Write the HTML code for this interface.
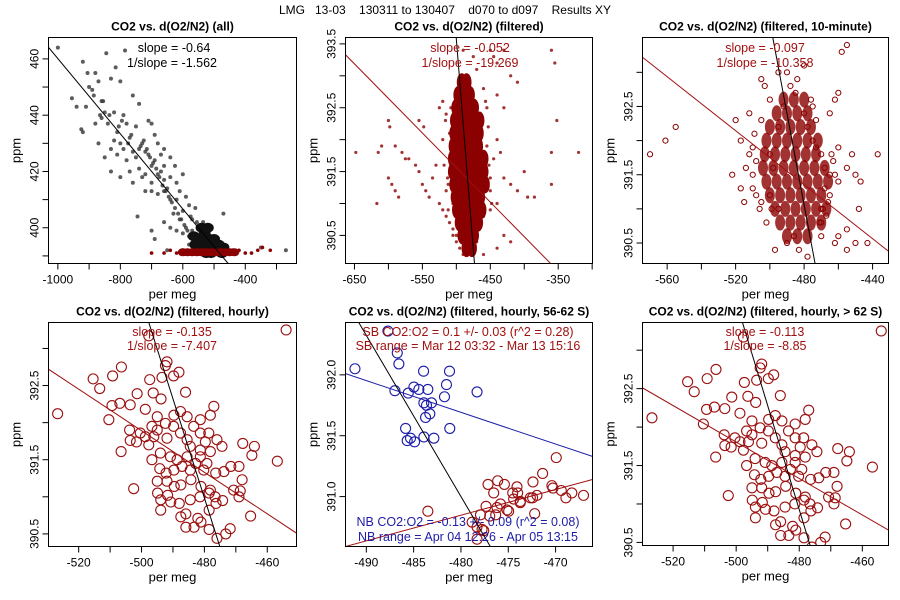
<!DOCTYPE html>
<html><head><meta charset="utf-8"><style>
body{margin:0;background:#fff;}
svg{display:block;font-family:"Liberation Sans",Arial,sans-serif;}
</style></head><body>
<svg id="c" width="900" height="600" viewBox="0 0 900 600">
<text x="445" y="14" text-anchor="middle" font-size="12" xml:space="preserve">LMG   13-03    130311 to 130407    d070 to d097    Results XY</text>
</svg>
<script>
// ---------- data ----------
const allBlackX=[-1000,-845,-785,-920,-815,-905,-880,-955,-940,-910,-870,-830,-800,-760,-900,-860,-850,-820,-790,-740,-925,-920,-880,-840,-810,-780,-750,-700,-870,-830,-800,-770,-730,-720,-680,-660,-850,-810,-780,-760,-740,-710,-690,-670,-640,-830,-800,-770,-740,-720,-700,-680,-660,-640,-620,-600,-745,-700,-690,-720,-700,-680,-660,-640,-620,-600,-580,-560,-700,-650,-630,-610,-590,-570,-550,-660,-640,-620,-600,-580,-560,-540,-520,-470,-540,-520,-500,-480,-560,-460,-440,-350,-270,-600,-650,-530,-510,-490,-570,-550,-530,-510,-490,-470,-450,-580,-660,-690,-710,-750,-790,-820,-760,-730,-670,-625,-610,-590,-575,-555,-535,-515,-545,-525,-505,-485,-465,-715,-705,-695,-685,-675,-665,-655,-645,-635,-625,-615,-605,-595,-585,-575,-565,-725,-735,-765,-775,-795,-805,-835,-855,-865,-885,-890,-860];
const allBlackY=[464,462,463,459,457,455,455,446,443,443,452,453,452,447,450,445,441,441,440,444,435,434,437,437,434,437,436,437,430,428,430,432,430,427,430,428,425,426,424,427,428,426,424,426,425,420,418,420,421,419,422,419,417,418,416,419,404,399,396,413,413,412,413,410,410,406,408,407,416,414,405,403,400,403,400,402,400,399,398,397,396,398,396,405,394,393,394,393,393,392,392,393,392,392,392,399,397,396,399,397,395,395,392,391,391,394,422,433,438,425,428,431,416,418,420,422,413,411,404,402,402,400,396,398,392,394,393,428,425,423,421,418,415,413,411,409,407,405,403,401,399,397,396,431,429,433,430,438,436,440,445,440,447,449,439];
const allBlackCoreX=[-550,-535,-520,-505,-490,-545,-525,-510,-475,-530,-515,-500,-560,-540,-520,-565,-485,-470];
const allBlackCoreY=[396,395,394,393,392,392,391,391,391,398,396,396,394,400,400,397,394,393];
const allRedX=[-640,-600,-620,-580,-560,-540,-520,-500,-480,-460,-440,-420,-400,-380,-360,-345,-320,-700,-660];
const allRedY=[392,392,391,391,392,391,392,391,392,391,391,392,391,391,392,393,392,391,391];
const allRedCoreX=[-600,-585,-570,-555,-540,-525,-510,-495,-480,-465,-450,-435];
const allRedCoreY=[391.3,391.3,391.3,391.3,391.3,391.3,391.3,391.3,391.3,391.3,391.3,391.3];

const filtX=[-648,-615,-610,-617,-600,-598,-590,-580,-570,-600,-595,-590,-585,-575,-560,-555,-550,-545,-540,-535,-530,-525,-520,-515,-510,-505,-500,-495,-548,-555,-510,-515,-520,-525,-450,-445,-440,-430,-420,-440,-430,-410,-360,-355,-352,-360,-320,-360,-385,-395,-410,-420,-430,-400,-440,-450,-430,-420,-440,-460,-470,-480,-455,-460,-470,-475,-490,-440,-445,-435,-470,-490,-505,-510,-512,-505,-450,-518,-515,-512,-520,-516,-513,-455,-452,-450,-448,-453,-457,-505,-500,-460,-458,-456,-508];
const filtY=[391.8,391.8,391.9,391.0,392.3,392.2,391.9,391.8,391.7,391.4,391.3,391.2,391.1,391.7,391.6,391.5,391.3,391.2,391.1,391.4,391.6,391.0,390.9,390.8,390.7,390.5,390.4,390.3,392.2,392.3,392.1,392.4,392.6,392.5,393.4,393.3,393.2,393.4,393.0,392.7,392.5,392.9,393.4,393.2,392.3,391.8,391.8,391.3,391.1,391.1,391.2,391.3,391.4,391.5,391.0,390.9,390.5,390.4,390.3,390.2,390.6,390.3,392.5,392.8,393.1,393.3,393.4,392.0,391.7,391.8,390.4,390.2,391.9,391.7,391.3,391.0,391.4,391.6,391.2,390.9,392.0,392.3,391.4,391.9,391.6,391.2,391.0,392.2,392.6,390.6,390.5,390.8,391.5,391.3,392.5];
const filtCoreX=[-492,-485,-497,-488,-480,-500,-491,-482,-474,-502,-493,-484,-475,-466,-503,-494,-485,-476,-467,-504,-495,-486,-477,-468,-505,-496,-487,-478,-469,-460,-505,-496,-487,-478,-469,-460,-503,-494,-485,-476,-467,-458,-501,-492,-483,-474,-465,-499,-490,-481,-472,-463,-495,-486,-477,-468,-491,-482,-474,-485,-477];
const filtCoreY=[392.9,392.9,392.7,392.7,392.7,392.5,392.5,392.5,392.5,392.3,392.3,392.3,392.3,392.3,392.1,392.1,392.1,392.1,392.1,391.9,391.9,391.9,391.9,391.9,391.7,391.7,391.7,391.7,391.7,391.7,391.5,391.5,391.5,391.5,391.5,391.5,391.3,391.3,391.3,391.3,391.3,391.3,391.1,391.1,391.1,391.1,391.1,390.9,390.9,390.9,390.9,390.9,390.7,390.7,390.7,390.7,390.5,390.5,390.5,390.3,390.3];

const tenX=[-570,-561,-555,-522,-517,-515,-520,-517,-510,-505,-503,-458,-452,-455,-460,-462,-465,-460,-463,-465,-460,-455,-450,-447,-437,-443,-450,-455,-460,-462,-455,-470,-478,-497,-490,-495,-500,-505,-510,-505,-500,-495,-490,-488,-485,-480,-478,-475,-473,-470,-468,-465,-470,-467,-500,-508,-512,-495,-480,-475,-452,-448,-470,-483,-486,-498,-492,-484,-510,-508,-512,-506,-509,-514,-468,-466,-464,-462,-469,-471,-502,-499,-476,-473];
const tenY=[391.8,392.0,392.2,391.5,391.3,391.1,392.3,392.0,391.9,392.9,392.8,393.3,393.6,393.4,392.7,392.6,392.4,391.9,391.7,391.5,391.4,391.6,391.5,391.4,391.8,390.5,390.5,390.4,390.6,390.5,390.7,390.6,390.3,390.4,390.5,391.0,391.2,391.1,391.3,392.3,392.6,393.0,393.0,392.8,392.7,392.4,392.2,392.0,391.9,391.8,391.6,391.2,391.0,390.9,391.8,391.7,392.4,392.2,393.1,392.5,391.8,391.0,390.8,390.4,390.6,391.6,392.5,392.9,391.5,391.2,391.8,391.0,392.1,391.6,391.3,391.1,391.8,391.5,391.0,390.8,390.8,391.0,392.6,392.3];
const tenCoreX=[-492,-486,-480,-496,-490,-484,-478,-500,-494,-488,-482,-476,-502,-496,-490,-484,-478,-472,-503,-497,-491,-485,-479,-473,-504,-498,-492,-486,-480,-474,-468,-502,-496,-490,-484,-478,-472,-466,-500,-494,-488,-482,-476,-470,-497,-491,-485,-479,-473,-467,-494,-488,-482,-476,-470,-490,-484,-478];
const tenCoreY=[392.6,392.6,392.6,392.4,392.4,392.4,392.4,392.2,392.2,392.2,392.2,392.2,392.0,392.0,392.0,392.0,392.0,392.0,391.8,391.8,391.8,391.8,391.8,391.8,391.6,391.6,391.6,391.6,391.6,391.6,391.6,391.4,391.4,391.4,391.4,391.4,391.4,391.4,391.2,391.2,391.2,391.2,391.2,391.2,391.0,391.0,391.0,391.0,391.0,391.0,390.8,390.8,390.8,390.8,390.8,390.6,390.6,390.6];

const hourX=[-526.7,-454,-497.7,-491.9,-492.4,-506.4,-515.4,-513.3,-509.2,-497.4,-493.5,-489.8,-488.1,-501.4,-503.6,-506.9,-509.4,-510.4,-498.8,-496.3,-493.8,-486.0,-477.0,-478.1,-481.3,-503.8,-503.6,-501.6,-506.5,-497.7,-496.1,-491.9,-489.7,-487.6,-485.5,-483.4,-481.3,-478.6,-476.0,-474.4,-467.8,-464.1,-464.9,-456.8,-469.0,-471.6,-473.8,-476.4,-468.0,-468.6,-470.7,-469.0,-465.3,-471.8,-473.2,-476.0,-478.5,-481.1,-483.3,-485.9,-482.1,-478.5,-476.3,-474.2,-478.5,-481.1,-484.3,-487.5,-489.6,-491.7,-493.9,-494.9,-493.9,-490.7,-488.0,-485.9,-487.5,-502.5,-496.7,-494.0,-490.8,-488.7,-485.5,-482.8,-481.3,-484.5,-481.3,-479.7,-478.1,-485.5,-487.6,-489.8,-492.4,-495.0,-495.0,-500.4,-498.8,-496.7,-494.2,-492.2,-489.7,-487.1,-484.5,-480.2,-479.2,-491.9,-495.0,-478.1,-481.4,-484.5,-476.6];
const hourY=[392.12,393.25,393.17,392.82,392.77,392.75,392.59,392.46,392.63,392.58,392.61,392.63,392.68,392.39,392.24,392.26,392.23,392.04,392.18,392.40,392.32,392.41,392.22,392.10,392.04,391.90,391.76,391.74,391.61,391.70,391.81,391.79,392.10,392.15,392.08,391.95,391.86,391.86,391.77,391.68,391.72,391.68,391.56,391.48,391.41,391.41,391.34,391.32,391.23,391.08,391.09,391.00,390.74,390.57,390.50,390.44,390.56,390.66,390.59,390.59,390.71,390.82,390.91,390.95,391.05,391.14,391.23,391.16,391.14,391.02,390.96,391.05,390.82,390.93,390.91,390.77,390.73,391.11,391.50,391.59,391.54,391.50,391.54,391.45,391.54,391.68,391.63,391.74,391.61,391.77,391.86,391.95,391.99,392.08,391.90,391.86,391.81,391.95,391.38,391.32,391.36,391.41,391.36,391.36,391.45,391.21,391.21,391.09,391.00,390.96,391.00];

const sbX=[-487.72,-486.73,-486.56,-491.20,-486.98,-485.57,-484.97,-484.45,-483.50,-483.95,-481.21,-481.53,-478.30,-481.74,-483.92,-483.11,-483.64,-483.29,-483.74,-485.85,-485.33,-485.68,-484.90,-483.92,-482.86,-481.18];
const sbY=[392.36,392.18,392.09,392.05,391.87,391.85,391.90,391.88,391.88,392.03,392.03,391.92,391.86,391.82,391.77,391.77,391.75,391.68,391.65,391.56,391.48,391.46,391.45,391.49,391.48,391.56];
const nbX=[-469.93,-471.37,-472.39,-477.14,-476.12,-475.41,-476.54,-474.08,-474.01,-474.53,-474.43,-475.83,-477.35,-476.19,-475.13,-474.96,-473.73,-473.73,-472.67,-472.43,-471.97,-470.39,-470.28,-469.40,-468.28,-467.05,-468.91,-472.21,-483.50,-477.94,-476.96,-476.33,-478.82,-478.30,-477.77,-477.59,-478.30];
const nbY=[391.32,391.19,391.12,391.10,391.13,391.10,391.03,391.08,391.03,391.03,390.98,390.94,390.92,390.91,390.89,390.88,390.96,390.95,390.99,390.99,391.01,391.09,391.07,391.05,391.03,391.01,390.99,390.86,390.88,390.85,390.84,390.85,390.79,390.75,390.73,390.72,390.65];

// regression lines as [x1,y1,x2,y2] in data units
const fitAll=[-1030,464.1,-455,387.3];
const fitFiltBlack=[-500.2,393.6,-473.3,390.06], fitFiltRed=[-663.2,393.33,-361.2,390.06];
const fitTenBlack=[-498.3,393.51,-473.6,390.2], fitTenRed=[-574.4,393.22,-430.7,390.38];
const fitHourBlack=[-497.7,393.35,-475.1,390.33], fitHourRed=[-529.6,392.72,-450.7,390.51];
const fit62Black=[-498.0,393.36,-476.55,390.46], fit62Red=[-529.7,392.51,-451.7,390.66];
const fitSBBlack=[-490.8,392.43,-476.9,390.59], fitSBBlue=[-492.2,392.01,-466.1,391.33], fitNBRed=[-492.2,390.59,-466.1,391.14];

// ---------- drawing ----------
const svg=document.getElementById('c');
const NS='http://www.w3.org/2000/svg';
function mk(tag,attrs,parent){const e=document.createElementNS(NS,tag);for(const k in attrs)e.setAttribute(k,attrs[k]);(parent||svg).appendChild(e);return e;}
const DR='#8b0000', BL='#1c1ca8';

function panel(p){
  const g=mk('g',{});
  
  
  const sx=v=>p.L+(v-p.x0)/(p.x1-p.x0)*(p.R-p.L);
  const sy=v=>p.B-(v-p.y0)/(p.y1-p.y0)*(p.B-p.T);
  const cp='cp'+p.name;
  const defs=mk('defs',{},g);const c=mk('clipPath',{id:cp},defs);mk('rect',{x:p.L,y:p.T,width:p.R-p.L,height:p.B-p.T},c);
  const t=mk('text',{x:(p.L+p.R)/2,y:p.T-7,'text-anchor':'middle','font-size':12,'font-weight':'bold'},g);
  t.textContent=p.title;
  
  
  for(const v of p.xt){const x=sx(v);mk('line',{x1:x,x2:x,y1:p.B,y2:p.B+6,stroke:'#000'},g);}
  for(const v of p.xl){const tx=mk('text',{x:sx(v),y:p.B+20,'text-anchor':'middle','font-size':12},g);tx.textContent=v;
    
    }
  for(const v of p.yt){const y=sy(v);mk('line',{x1:p.L-6,x2:p.L,y1:y,y2:y,stroke:'#000'},g);}
  for(const v of p.yl){const y=sy(v);const tx=mk('text',{x:p.L-10,y:y,'text-anchor':'middle','font-size':12,transform:`rotate(-90 ${p.L-10} ${y})`},g);tx.textContent=p.yfmt?v.toFixed(1):v;
    
    }
  const xa=mk('text',{x:(p.L+p.R)/2,y:p.B+35,'text-anchor':'middle','font-size':13},g);xa.textContent='per meg';
  
  
  const yx=p.L-28,yy=(p.T+p.B)/2;
  const ya=mk('text',{x:yx,y:yy,'text-anchor':'middle','font-size':13,transform:`rotate(-90 ${yx} ${yy})`},g);ya.textContent='ppm';
  
  
  const pg=mk('g',{'clip-path':`url(#${cp})`},g);
  for(const s of p.series){
    for(let i=0;i<s.x.length;i++){
      const ci=mk('ellipse',{cx:sx(s.x[i]),cy:sy(s.y[i]),rx:s.r,ry:s.ry||s.r},pg);
      if(s.fill){ci.setAttribute('fill',s.color);ci.setAttribute('fill-opacity',s.op||1);ci.setAttribute('stroke','none');}
      else{ci.setAttribute('fill','none');ci.setAttribute('stroke',s.color);ci.setAttribute('stroke-width',s.sw||1);}
      
      
    }
  }
  for(const l of p.lines){
    const ln=mk('line',{x1:sx(l.d[0]),y1:sy(l.d[1]),x2:sx(l.d[2]),y2:sy(l.d[3]),stroke:l.color,'stroke-width':1},pg);
    
    
  }
  for(const a of p.notes){
    const tx=mk('text',{x:a.x,y:a.y,'text-anchor':'middle','font-size':12.5,fill:a.color},g);tx.textContent=a.t;
    
    
  }
  const fr=mk('rect',{x:p.L,y:p.T,width:p.R-p.L,height:p.B-p.T,fill:'none',stroke:'#000','stroke-width':1},g);
  
  
}
const rng=(a,b,s)=>{const r=[];for(let v=a;v<=b+1e-9;v+=s)r.push(Math.round(v*100)/100);return r;};

panel({name:'panel-all',title:'CO2 vs. d(O2/N2) (all)',L:48.5,R:296.5,T:37.5,B:263.5,x0:-1030,x1:-236,y0:387.3,y1:467.6,
 xt:rng(-1000,-300,100),xl:[-1000,-800,-600,-400],yt:rng(390,460,10),yl:[400,420,440,460],
 series:[{name:'point-all',x:allBlackX,y:allBlackY,r:2,fill:1,color:'#333',op:.8},{name:'core-all',x:allBlackCoreX,y:allBlackCoreY,r:6,ry:5,fill:1,color:'#111'},
 {name:'point-filtered-red',x:allRedX,y:allRedY,r:1.8,fill:1,color:DR},{name:'core-filtered-red',x:allRedCoreX,y:allRedCoreY,r:5,ry:4,fill:1,color:DR}],
 lines:[{name:'fit-line-all',d:fitAll,color:'#000'}],
 notes:[{t:'slope = -0.64',x:174,y:52,color:'#000',name:'slope-text'},{t:'1/slope = -1.562',x:172,y:67,color:'#000',name:'inv-slope-text'}]});

panel({name:'panel-filtered',title:'CO2 vs. d(O2/N2) (filtered)',L:345.5,R:592.5,T:37.5,B:263.5,x0:-663.2,x1:-299.5,y0:390.06,y1:393.6,
 xt:rng(-650,-300,50),xl:[-650,-550,-450,-350],yt:rng(390.5,393.5,0.5),yl:[390.5,391.5,392.5,393.5],yfmt:1,
 series:[{name:'core-filtered',x:filtCoreX,y:filtCoreY,r:5,ry:9,fill:1,color:DR},{name:'point-filtered',x:filtX,y:filtY,r:1.6,fill:1,color:DR,op:.8}],
 lines:[{name:'fit-line-red',d:fitFiltRed,color:'#a01010'},{name:'fit-line-black',d:fitFiltBlack,color:'#000'}],
 notes:[{t:'slope = -0.052',x:470,y:52,color:'#a01010',name:'slope-text'},{t:'1/slope = -19.269',x:470,y:67,color:'#a01010',name:'inv-slope-text'}]});

panel({name:'panel-10min',title:'CO2 vs. d(O2/N2) (filtered, 10-minute)',L:642.5,R:888.5,T:37.5,B:263.5,x0:-574.4,x1:-430.7,y0:390.2,y1:393.51,
 xt:rng(-560,-440,20),xl:[-560,-520,-480,-440],yt:rng(390.5,393,0.5),yl:[390.5,391.5,392.5],yfmt:1,
 series:[{name:'core-10min',x:tenCoreX,y:tenCoreY,r:5,ry:8,fill:1,color:DR,op:.8},{name:'point-10min',x:tenX,y:tenY,r:2.6,color:DR}],
 lines:[{name:'fit-line-red',d:fitTenRed,color:'#a01010'},{name:'fit-line-black',d:fitTenBlack,color:'#000'}],
 notes:[{t:'slope = -0.097',x:765,y:52,color:'#a01010',name:'slope-text'},{t:'1/slope = -10.358',x:765,y:67,color:'#a01010',name:'inv-slope-text'}]});

panel({name:'panel-hourly',title:'CO2 vs. d(O2/N2) (filtered, hourly)',L:48.5,R:296.5,T:322.5,B:546.5,x0:-529.6,x1:-450.7,y0:390.33,y1:393.35,
 xt:rng(-520,-460,10),xl:[-520,-500,-480,-460],yt:rng(390.5,393,0.5),yl:[390.5,391.5,392.5],yfmt:1,
 series:[{name:'point-hourly',x:hourX,y:hourY,r:5,color:'#9b1010',sw:1.1}],
 lines:[{name:'fit-line-red',d:fitHourRed,color:'#a01010'},{name:'fit-line-black',d:fitHourBlack,color:'#000'}],
 notes:[{t:'slope = -0.135',x:172,y:336,color:'#a01010',name:'slope-text'},{t:'1/slope = -7.407',x:172,y:350,color:'#a01010',name:'inv-slope-text'}]});

panel({name:'panel-56-62s',title:'CO2 vs. d(O2/N2) (filtered, hourly, 56-62 S)',L:345.5,R:592.5,T:322.5,B:546.5,x0:-492.2,x1:-466.1,y0:390.59,y1:392.43,
 xt:rng(-490,-470,5),xl:[-490,-485,-480,-475,-470],yt:rng(391,392,0.5),yl:[391,391.5,392],yfmt:1,
 series:[{name:'point-sb',x:sbX,y:sbY,r:5,color:BL,sw:1.1},{name:'point-nb',x:nbX,y:nbY,r:5,color:'#9b1010',sw:1.1}],
 lines:[{name:'fit-line-black',d:fitSBBlack,color:'#000'},{name:'fit-line-sb',d:fitSBBlue,color:BL},{name:'fit-line-nb',d:fitNBRed,color:'#a01010'}],
 notes:[{t:'SB CO2:O2 = 0.1 +/- 0.03 (r^2 = 0.28)',x:468,y:336,color:'#a01010',name:'sb-ratio-text'},{t:'SB range = Mar 12 03:32 - Mar 13 15:16',x:468,y:350,color:'#a01010',name:'sb-range-text'},
  {t:'NB CO2:O2 = -0.13 +/- 0.09 (r^2 = 0.08)',x:468,y:526,color:BL,name:'nb-ratio-text'},{t:'NB range = Apr 04 12:26 - Apr 05 13:15',x:468,y:541,color:BL,name:'nb-range-text'}]});

panel({name:'panel-gt-62s',title:'CO2 vs. d(O2/N2) (filtered, hourly, > 62 S)',L:642.5,R:888.5,T:322.5,B:545.5,x0:-529.7,x1:-451.7,y0:390.46,y1:393.36,
 xt:rng(-520,-460,10),xl:[-520,-500,-480,-460],yt:rng(390.5,393,0.5),yl:[390.5,391.5,392.5],yfmt:1,
 series:[{name:'point-hourly-62s',x:hourX,y:hourY,r:5,color:'#9b1010',sw:1.1}],
 lines:[{name:'fit-line-red',d:fit62Red,color:'#a01010'},{name:'fit-line-black',d:fit62Black,color:'#000'}],
 notes:[{t:'slope = -0.113',x:765,y:336,color:'#a01010',name:'slope-text'},{t:'1/slope = -8.85',x:765,y:350,color:'#a01010',name:'inv-slope-text'}]});
</script>
</body></html>
